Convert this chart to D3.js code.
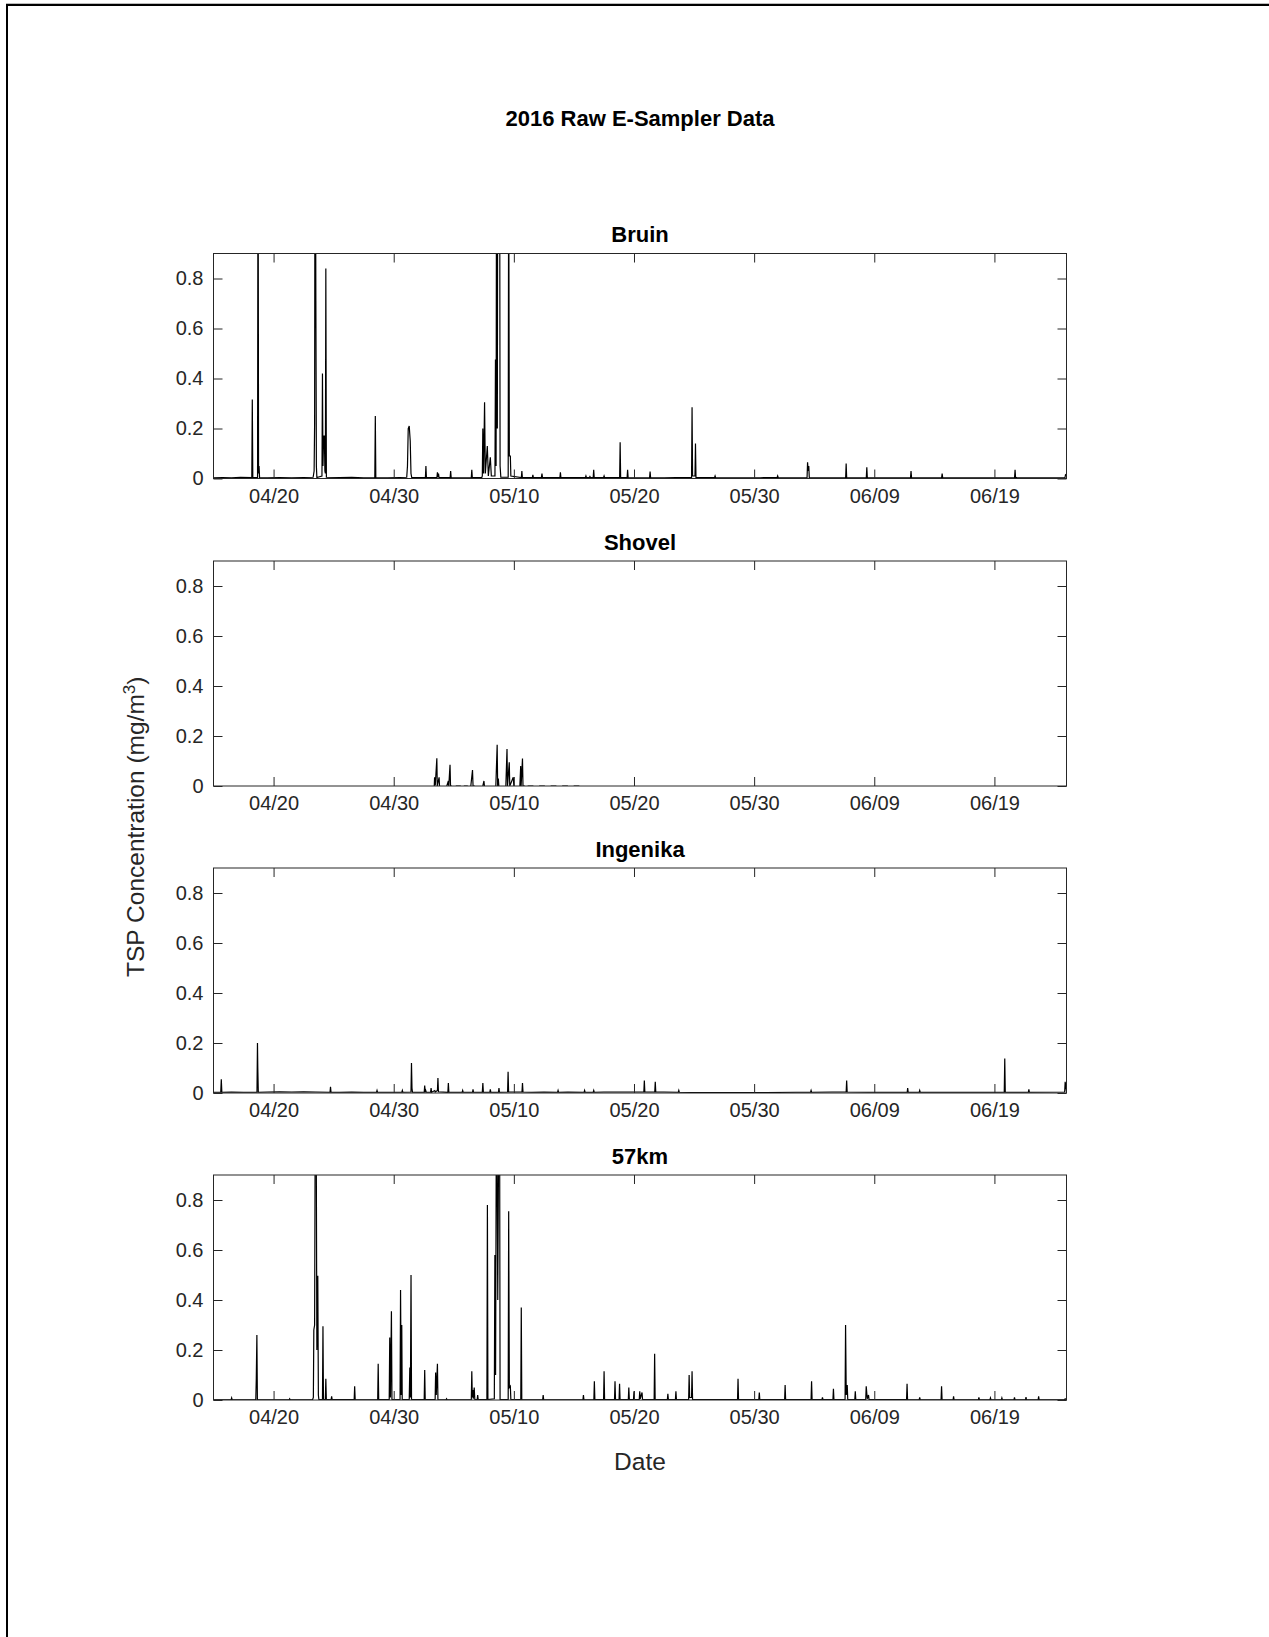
<!DOCTYPE html>
<html>
<head>
<meta charset="utf-8">
<script src="https://cdn.jsdelivr.net/npm/d3@7"></script>
<style>
  html, body { margin: 0; padding: 0; background: #fff; }
  svg text { font-family: "Liberation Sans", Arial, Helvetica, sans-serif; }
</style>
</head>
<body>
<svg id="chart" width="1269" height="1637"></svg>
<script>
// ---------------- DATA ----------------
const figureTitle = "2016 Raw E-Sampler Data";
const yLabelMain = "TSP Concentration (mg/m";
const yLabelSup = "3";
const xLabel = "Date";
const stations = ["Bruin", "Shovel", "Ingenika", "57km"];
const xDomain = ["2016-04-15 00:00", "2016-06-25 00:00"];
const yDomain = [0, 0.9];
const xTickDates = ["2016-04-20 00:00", "2016-04-30 00:00", "2016-05-10 00:00", "2016-05-20 00:00", "2016-05-30 00:00", "2016-06-09 00:00", "2016-06-19 00:00"];
const xTickLabels = ["04/20", "04/30", "05/10", "05/20", "05/30", "06/09", "06/19"];
const yTickValues = [0, 0.2, 0.4, 0.6, 0.8];
const yTickLabels = ["0", "0.2", "0.4", "0.6", "0.8"];

// TSP readings [MM-DD HH:MM (2016), mg/m3]; null = no data (gap)
const bruin = [
["04-15 00:00",0.003],["04-15 18:00",0.004],["04-16 12:00",0.003],["04-17 06:00",0.005],
["04-18 04:30",0.004],["04-18 05:30",0.316],["04-18 06:30",0.004],["04-18 16:00",0.004],
["04-18 17:00",1.6],["04-18 18:00",0.02],["04-18 19:00",0.05],["04-18 20:00",0.004],
["04-19 12:00",0.003],["04-20 12:00",0.004],["04-21 12:00",0.003],["04-22 12:00",0.004],
["04-23 07:00",0.005],["04-23 09:00",0.03],["04-23 10:00",0.22],["04-23 11:00",1.9],
["04-23 12:30",0.71],["04-23 13:30",0.05],["04-23 14:30",0.004],["04-24 00:40",0.01],
["04-24 01:40",0.42],["04-24 02:40",0.05],["04-24 04:00",0.17],["04-24 05:30",0.17],
["04-24 06:30",0.03],["04-24 07:30",0.02],["04-24 08:24",0.84],["04-24 09:30",0.005],
["04-25 12:00",0.004],["04-26 12:00",0.005],["04-27 12:00",0.003],["04-28 10:15",0.004],
["04-28 11:15",0.25],["04-28 12:15",0.004],["04-29 12:00",0.003],["04-30 12:00",0.004],
["05-01 02:00",0.005],["05-01 03:30",0.05],["05-01 05:00",0.2],["05-01 07:00",0.21],
["05-01 09:00",0.15],["05-01 10:30",0.02],["05-01 12:00",0.004],["05-02 15:20",0.004],
["05-02 16:20",0.05],["05-02 17:20",0.004],["05-03 14:20",0.004],["05-03 15:20",0.025],
["05-03 16:30",0.005],["05-03 17:30",0.02],["05-03 18:30",0.004],["05-04 16:45",0.004],
["05-04 17:45",0.03],["05-04 18:45",0.004],["05-05 12:00",0.003],["05-06 11:00",0.004],
["05-06 12:00",0.035],["05-06 13:00",0.004],["05-07 08:00",0.004],["05-07 09:00",0.01],["05-07 10:00",0.2],
["05-07 11:30",0.02],["05-07 13:30",0.305],["05-07 15:00",0.02],["05-07 19:00",0.13],
["05-07 21:00",0.01],["05-08 01:00",0.085],["05-08 03:00",0.01],["05-08 10:15",0.01],["05-08 11:15",0.476],
["05-08 12:30",0.05],["05-08 13:30",1.5],["05-08 15:00",0.2],["05-08 16:00",1.8],
["05-08 18:00",1.2],["05-08 19:30",1.6],["05-08 20:30",0.05],["05-08 22:00",0.005],
["05-09 12:40",0.005],["05-09 13:40",1.3],["05-09 15:00",0.09],["05-09 17:00",0.09],
["05-09 18:00",0.01],["05-10 15:00",0.004],["05-10 16:00",0.03],["05-10 17:00",0.004],
["05-11 13:00",0.004],["05-11 14:00",0.015],["05-11 15:00",0.004],["05-12 07:00",0.004],
["05-12 08:10",0.02],["05-12 09:10",0.004],["05-13 20:00",0.004],["05-13 21:00",0.025],
["05-13 22:00",0.004],["05-15 00:00",0.004],["05-15 23:00",0.004],["05-16 00:00",0.01],
["05-16 01:00",0.004],["05-16 07:00",0.004],["05-16 08:00",0.008],["05-16 09:00",0.004],
["05-16 14:30",0.004],["05-16 15:30",0.035],["05-16 16:30",0.004],["05-17 11:15",0.004],
["05-17 12:15",0.01],["05-17 13:15",0.004],["05-18 19:20",0.004],["05-18 20:20",0.145],
["05-18 21:20",0.004],["05-19 10:15",0.004],["05-19 11:15",0.035],["05-19 12:15",0.004],
["05-20 12:00",0.003],["05-21 07:10",0.004],["05-21 08:10",0.028],["05-21 09:10",0.004],
["05-22 12:00",0.003],["05-23 12:00",0.004],["05-24 19:00",0.004],["05-24 20:00",0.285],
["05-24 21:00",0.01],["05-25 01:50",0.01],["05-25 02:50",0.14],["05-25 03:50",0.004],
["05-26 17:00",0.004],["05-26 18:00",0.01],["05-26 19:00",0.004],["05-28 12:00",0.003],
["05-30 12:00",0.003],["05-31 22:00",0.004],["05-31 23:00",0.01],["06-01 00:00",0.004],
["06-02 12:00",0.003],["06-03 09:45",0.004],["06-03 10:45",0.065],["06-03 12:00",0.03],
["06-03 13:10",0.05],["06-03 14:10",0.004],["06-05 00:00",0.003],["06-06 14:50",0.004],
["06-06 15:50",0.06],["06-06 16:50",0.004],["06-07 12:00",0.003],["06-08 08:05",0.004],
["06-08 09:05",0.045],["06-08 10:05",0.004],["06-10 00:00",0.003],["06-12 00:25",0.004],
["06-12 01:25",0.03],["06-12 02:25",0.004],["06-13 12:00",0.003],["06-14 14:35",0.004],
["06-14 15:35",0.02],["06-14 16:35",0.004],["06-16 00:00",0.003],["06-18 00:00",0.003],
["06-20 16:15",0.004],["06-20 17:15",0.035],["06-20 18:15",0.004],["06-22 12:00",0.003],
["06-24 21:00",0.004],["06-24 22:00",0.015],["06-25 00:00",0.012]
];

const shovel = [
["05-03 09:00",0],["05-03 09:40",0.035],["05-03 11:00",0.002],["05-03 14:10",0.111],
["05-03 15:00",0],["05-03 18:40",0.035],["05-03 19:30",0],null,
["05-04 10:00",0],["05-04 13:10",0.02],["05-04 14:00",0],["05-04 16:30",0.085],
["05-04 17:30",0],["05-04 20:00",0],null,
["05-05 04:00",0],["05-05 14:00",0],null,
["05-05 20:00",0],["05-06 04:00",0],null,
["05-06 10:00",0],["05-06 13:25",0.064],["05-06 14:30",0],["05-06 18:00",0],null,
["05-07 10:00",0],["05-07 12:15",0.02],["05-07 13:15",0],null,
["05-08 12:00",0],["05-08 14:40",0.165],["05-08 15:40",0],["05-08 17:00",0.03],["05-08 18:00",0],null,
["05-09 08:00",0],["05-09 10:20",0.148],["05-09 11:20",0],["05-09 14:50",0.095],
["05-09 15:50",0],["05-09 22:50",0.035],["05-10 00:00",0],null,
["05-10 12:00",0],["05-10 13:40",0.08],["05-10 14:30",0],["05-10 17:15",0.11],
["05-10 18:15",0],["05-10 22:00",0],null,
["05-11 03:30",0],["05-11 15:00",0],null,
["05-12 02:30",0],["05-12 14:00",0],null,
["05-13 01:30",0],["05-13 13:00",0],null,
["05-14 00:30",0],["05-14 12:00",0],null,
["05-14 23:30",0],["05-15 10:50",0]
];

const ingenika = [
["04-15 00:00",0.003],["04-15 14:30",0.003],["04-15 15:35",0.055],["04-15 16:40",0.003],
["04-16 12:00",0.004],["04-17 12:00",0.003],["04-18 14:50",0.003],["04-18 15:50",0.2],
["04-18 16:30",0.1],["04-18 17:30",0.003],["04-19 12:00",0.004],["04-20 12:00",0.005],
["04-21 12:00",0.004],["04-22 12:00",0.005],["04-23 12:00",0.004],["04-24 16:45",0.003],
["04-24 17:45",0.025],["04-24 18:45",0.003],["04-25 12:00",0.003],["04-26 12:00",0.004],
["04-27 12:00",0.003],["04-28 13:40",0.003],["04-28 14:40",0.01],["04-28 15:40",0.003],
["04-29 12:00",0.003],["04-30 16:15",0.003],["04-30 17:15",0.01],["04-30 18:15",0.003],
["05-01 10:30",0.004],["05-01 11:30",0.12],["05-01 12:30",0.02],["05-01 13:30",0.003],
["05-02 12:55",0.003],["05-02 13:55",0.03],["05-02 14:55",0.003],["05-02 16:00",0.01],
["05-02 17:00",0.003],["05-03 01:40",0.003],["05-03 02:40",0.02],["05-03 03:40",0.003],
["05-03 10:00",0.01],["05-03 11:00",0.004],["05-03 15:20",0.01],["05-03 16:20",0.06],
["05-03 17:20",0.005],["05-04 12:10",0.003],["05-04 13:10",0.04],["05-04 14:10",0.003],
["05-05 16:45",0.003],["05-05 17:45",0.01],["05-05 18:45",0.003],["05-06 13:25",0.003],
["05-06 14:25",0.015],["05-06 15:25",0.003],["05-07 09:00",0.004],["05-07 10:05",0.04],
["05-07 11:05",0.004],["05-08 00:00",0.003],["05-08 01:00",0.015],["05-08 02:00",0.003],
["05-08 17:15",0.003],["05-08 18:15",0.02],["05-08 19:15",0.003],["05-09 11:30",0.004],
["05-09 12:30",0.085],["05-09 13:30",0.004],["05-10 16:15",0.004],["05-10 17:15",0.04],
["05-10 18:15",0.004],["05-11 12:00",0.003],["05-12 12:00",0.004],["05-13 15:20",0.003],
["05-13 16:20",0.01],["05-13 17:20",0.003],["05-14 12:00",0.004],["05-15 20:20",0.003],
["05-15 21:20",0.01],["05-15 22:20",0.003],["05-16 14:35",0.003],["05-16 15:35",0.01],
["05-16 16:35",0.003],["05-17 12:00",0.004],["05-18 12:00",0.004],["05-19 12:00",0.004],
["05-20 19:40",0.004],["05-20 20:40",0.05],["05-20 21:40",0.004],["05-21 17:30",0.004],
["05-21 18:30",0.045],["05-21 19:30",0.004],["05-22 12:00",0.004],["05-23 16:30",0.003],
["05-23 17:30",0.01],["05-23 18:30",0.003],["05-25 12:00",0.002],["05-28 00:00",0.002],
["05-31 00:00",0.002],["06-02 12:00",0.003],["06-03 16:45",0.003],["06-03 17:45",0.01],
["06-03 18:45",0.003],["06-05 12:00",0.004],["06-06 15:50",0.005],["06-06 16:50",0.05],
["06-06 17:50",0.004],["06-08 12:00",0.003],["06-10 12:00",0.003],["06-11 17:45",0.003],
["06-11 18:45",0.02],["06-11 19:45",0.003],["06-12 17:45",0.003],["06-12 18:45",0.01],
["06-12 19:45",0.003],["06-15 00:00",0.003],["06-17 12:00",0.003],["06-19 19:40",0.003],
["06-19 20:40",0.138],["06-19 21:40",0.003],["06-21 19:50",0.003],["06-21 20:50",0.015],
["06-21 21:50",0.003],["06-24 20:20",0.004],["06-24 21:20",0.045],["06-25 00:00",0.005]
];

const km57 = [
["04-15 00:00",0.001],["04-16 11:15",0.001],["04-16 12:15",0.008],["04-16 13:15",0.001],
["04-18 12:30",0.002],["04-18 13:25",0.08],["04-18 14:40",0.26],["04-18 15:40",0.002],
["04-21 07:10",0.001],["04-21 08:10",0.005],["04-21 09:10",0.001],["04-23 06:00",0.002],
["04-23 07:30",0.01],["04-23 08:25",0.28],["04-23 10:00",0.3],["04-23 11:45",1.5],
["04-23 13:00",1.2],["04-23 14:30",0.2],["04-23 16:20",0.497],["04-23 17:30",0.02],
["04-23 18:30",0.002],["04-24 01:40",0.002],["04-24 02:40",0.295],["04-24 03:40",0.002],
["04-24 07:25",0.002],["04-24 08:25",0.085],["04-24 09:25",0.002],["04-24 19:00",0.002],
["04-24 20:00",0.015],["04-24 21:00",0.002],["04-26 17:00",0.002],["04-26 18:00",0.055],
["04-26 19:00",0.002],["04-28 16:00",0.001],["04-28 17:00",0.145],["04-28 18:00",0.002],
["04-29 15:00",0.002],["04-29 16:05",0.25],["04-29 17:30",0.01],["04-29 19:25",0.355],
["04-29 20:30",0.002],["04-30 12:40",0.002],["04-30 13:40",0.44],["04-30 15:00",0.02],
["04-30 16:05",0.3],["04-30 17:00",0.002],["05-01 07:00",0.002],["05-01 08:10",0.13],
["05-01 09:20",0.01],["05-01 10:35",0.5],["05-01 11:35",0.002],["05-02 12:55",0.002],
["05-02 13:55",0.12],["05-02 14:55",0.002],["05-03 10:45",0.002],["05-03 11:45",0.11],
["05-03 13:00",0.02],["05-03 15:20",0.145],["05-03 16:20",0.002],["05-04 08:35",0.001],
["05-04 09:35",0.005],["05-04 10:35",0.001],["05-06 11:00",0.002],["05-06 12:00",0.115],
["05-06 13:00",0.01],["05-06 14:00",0.04],["05-06 15:00",0.005],["05-06 16:50",0.05],
["05-06 18:00",0.002],["05-06 22:45",0.002],["05-06 23:45",0.02],["05-07 00:45",0.002],
["05-07 18:10",0.002],["05-07 19:10",0.78],["05-07 20:10",0.002],["05-08 09:00",0.005],
["05-08 10:05",0.58],["05-08 11:30",0.1],["05-08 13:25",1.4],["05-08 15:50",0.4],
["05-08 19:10",1.6],["05-08 20:30",0.002],["05-09 12:40",0.002],["05-09 13:40",0.755],
["05-09 15:00",0.05],["05-09 17:00",0.055],["05-09 18:00",0.002],["05-10 13:50",0.002],
["05-10 14:50",0.37],["05-10 15:50",0.002],["05-12 09:35",0.001],["05-12 10:35",0.02],
["05-12 11:35",0.001],["05-15 18:00",0.001],["05-15 19:00",0.02],["05-15 20:00",0.001],
["05-16 15:50",0.002],["05-16 16:50",0.075],["05-16 17:50",0.002],["05-17 11:15",0.002],
["05-17 12:15",0.115],["05-17 13:15",0.002],["05-18 09:05",0.002],["05-18 10:05",0.075],
["05-18 11:05",0.002],["05-18 18:10",0.002],["05-18 19:10",0.065],["05-18 20:10",0.002],
["05-19 12:40",0.002],["05-19 13:40",0.05],["05-19 14:40",0.002],["05-19 23:00",0.002],
["05-20 00:00",0.035],["05-20 01:00",0.002],["05-20 10:30",0.002],["05-20 11:30",0.035],
["05-20 12:30",0.005],["05-20 16:05",0.03],["05-20 17:05",0.002],["05-21 16:15",0.002],
["05-21 17:15",0.185],["05-21 18:15",0.002],["05-22 18:40",0.002],["05-22 19:40",0.025],
["05-22 20:40",0.002],["05-23 10:45",0.002],["05-23 11:45",0.035],["05-23 12:45",0.002],
["05-24 13:10",0.002],["05-24 14:10",0.1],["05-24 15:10",0.01],["05-24 19:00",0.01],
["05-24 20:00",0.115],["05-24 21:00",0.002],["05-28 14:50",0.002],["05-28 15:50",0.085],
["05-28 16:50",0.002],["05-30 09:20",0.002],["05-30 10:20",0.03],["05-30 11:20",0.002],
["06-01 12:55",0.002],["06-01 13:55",0.06],["06-01 14:55",0.002],["06-03 17:45",0.002],
["06-03 18:45",0.075],["06-03 19:45",0.002],["06-04 15:30",0.002],["06-04 16:30",0.01],
["06-04 17:30",0.002],["06-05 13:25",0.002],["06-05 14:25",0.045],["06-05 15:25",0.002],
["06-06 13:40",0.002],["06-06 14:40",0.3],["06-06 16:00",0.02],["06-06 18:00",0.06],
["06-06 19:00",0.002],["06-07 09:05",0.002],["06-07 10:05",0.035],["06-07 11:05",0.002],
["06-08 06:55",0.002],["06-08 07:55",0.055],["06-08 10:00",0.005],["06-08 12:30",0.02],
["06-08 13:30",0.002],["06-11 16:30",0.002],["06-11 17:30",0.065],["06-11 18:30",0.002],
["06-12 17:45",0.001],["06-12 18:45",0.01],["06-12 19:45",0.001],["06-14 13:25",0.002],
["06-14 14:25",0.055],["06-14 15:25",0.002],["06-15 13:25",0.001],["06-15 14:25",0.015],
["06-15 15:25",0.001],["06-17 16:00",0.001],["06-17 17:00",0.01],["06-17 18:00",0.001],
["06-18 15:05",0.001],["06-18 16:05",0.008],["06-18 17:05",0.001],["06-19 13:55",0.001],
["06-19 14:55",0.008],["06-19 15:55",0.001],["06-20 15:05",0.001],["06-20 16:05",0.01],
["06-20 17:05",0.001],["06-21 14:05",0.001],["06-21 15:05",0.012],["06-21 16:05",0.001],
["06-22 15:20",0.001],["06-22 16:20",0.015],["06-22 17:20",0.001],["06-24 20:20",0.001],
["06-24 21:20",0.005],["06-25 00:00",0.002]
];

const seriesList = [bruin, shovel, ingenika, km57];

// ---------------- LAYOUT ----------------
const W = 1269, H = 1637;
const axLeft = 213.5, axRight = 1066.5;
const panelTops = [253.5, 561, 868, 1175];
const panelH = 225;
const axisColor = "#262626";
const fontTick = 20, fontTitle = 22, fontLabel = 24.5;

const svg = d3.select("#chart");
const parseFull = d3.timeParse("%Y-%m-%d %H:%M");
const parseShort = s => parseFull("2016-" + s);

// figure frame (top and left edges visible)
svg.append("line").attr("x1", 6).attr("x2", W + 5).attr("y1", 3.5).attr("y2", 3.5)
  .attr("stroke", "#bbb").attr("stroke-width", 1);
svg.append("line").attr("x1", 6).attr("x2", W + 5).attr("y1", 5).attr("y2", 5)
  .attr("stroke", "#000").attr("stroke-width", 2);
svg.append("line").attr("x1", 7).attr("x2", 7).attr("y1", 4).attr("y2", H + 5)
  .attr("stroke", "#000").attr("stroke-width", 2);

// main title
svg.append("text").attr("x", (axLeft + axRight) / 2).attr("y", 126)
  .attr("text-anchor", "middle").attr("font-size", fontTitle).attr("font-weight", "bold")
  .attr("fill", "#000").text(figureTitle);

const x = d3.scaleTime().domain(xDomain.map(parseFull)).range([axLeft, axRight]);
const tickDates = xTickDates.map(parseFull);
const tickFmt = d => xTickLabels[tickDates.findIndex(t => +t === +d)];

stations.forEach((name, i) => {
  const top = panelTops[i], bottom = top + panelH;
  const y = d3.scaleLinear().domain(yDomain).range([bottom, top]);
  const g = svg.append("g");

  const cid = "clip" + i;
  svg.append("clipPath").attr("id", cid).append("rect")
    .attr("x", axLeft).attr("y", top).attr("width", axRight - axLeft).attr("height", panelH);

  const pts = seriesList[i].map(d => d === null ? null : { t: parseShort(d[0]), v: d[1] });
  const line = d3.line().defined(d => d !== null).x(d => x(d.t)).y(d => y(d.v));
  g.append("path").datum(pts).attr("clip-path", `url(#${cid})`)
    .attr("fill", "none").attr("stroke", "#000").attr("stroke-width", 1.2)
    .attr("stroke-linejoin", "miter").attr("d", line);

  const axB = d3.axisBottom(x).tickValues(tickDates).tickFormat(tickFmt).tickSize(-9).tickPadding(10);
  const axT = d3.axisTop(x).tickValues(tickDates).tickFormat("").tickSize(-9);
  const axL = d3.axisLeft(y).tickValues(yTickValues).tickFormat((d, k) => yTickLabels[k]).tickSize(-9).tickPadding(10);
  const axR = d3.axisRight(y).tickValues(yTickValues).tickFormat("").tickSize(-9);

  const styleAxis = sel => {
    sel.select(".domain").remove();
    sel.selectAll(".tick line").attr("stroke", axisColor).attr("stroke-width", 1);
    sel.selectAll(".tick text").attr("fill", axisColor).attr("font-size", fontTick)
      .attr("font-family", "'Liberation Sans', Arial, Helvetica, sans-serif");
  };
  g.append("g").attr("transform", `translate(0,${bottom})`).call(axB).call(styleAxis);
  g.append("g").attr("transform", `translate(0,${top})`).call(axT).call(styleAxis);
  g.append("g").attr("transform", `translate(${axLeft},0)`).call(axL).call(styleAxis);
  g.append("g").attr("transform", `translate(${axRight},0)`).call(axR).call(styleAxis);

  g.append("rect").attr("x", axLeft).attr("y", top).attr("width", axRight - axLeft).attr("height", panelH)
    .attr("fill", "none").attr("stroke", axisColor).attr("stroke-width", 1);

  g.append("text").attr("x", (axLeft + axRight) / 2).attr("y", top - 11.5)
    .attr("text-anchor", "middle").attr("font-size", fontTitle).attr("font-weight", "bold")
    .attr("fill", "#000").text(name);
});

// y label
const ylab = svg.append("text")
  .attr("transform", `translate(144,${(panelTops[0] + panelTops[3] + panelH) / 2}) rotate(-90)`)
  .attr("text-anchor", "middle").attr("font-size", fontLabel).attr("fill", axisColor);
ylab.append("tspan").text(yLabelMain);
ylab.append("tspan").attr("baseline-shift", "super").attr("font-size", 17).text(yLabelSup);
ylab.append("tspan").text(")");

// x label
svg.append("text").attr("x", (axLeft + axRight) / 2).attr("y", 1469.5)
  .attr("text-anchor", "middle").attr("font-size", fontLabel).attr("fill", axisColor).text(xLabel);
</script>
</body>
</html>
